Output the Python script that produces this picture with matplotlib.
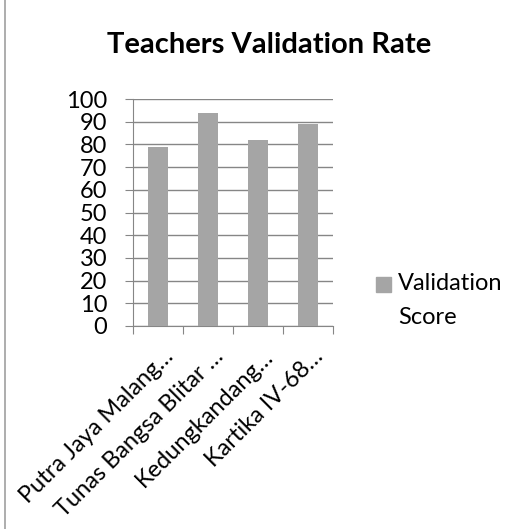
import numpy as np
import matplotlib.pyplot as plt
import matplotlib.transforms as mtransforms
from matplotlib.lines import Line2D
from matplotlib.patches import Rectangle

schools = ['Putra Jaya Malang…', 'Tunas Bangsa Blitar …', 'Kedungkandang…', 'Kartika IV-68…']
scores = [79, 94, 82, 89]
bar_color = '#a5a5a5'

plt.rcParams['font.family'] = ['Lato', 'DejaVu Sans']

W = 529
fig = plt.figure(figsize=(W/100, W/100), dpi=100)
ax = fig.add_axes([133/W, 1-326/W, 200/W, 227/W])

x = np.arange(len(schools))
ax.bar(x, scores, width=0.4, color=bar_color, zorder=3)
ax.set_xlim(-0.5, len(schools)-0.5)
ax.set_ylim(0, 100)
ax.set_yticks(range(0, 101, 10))
ax.yaxis.grid(True, color='#868686', linewidth=1, zorder=0)
ax.tick_params(axis='y', labelsize=17, length=6, color='#868686', pad=12.5)
ax.set_xticks(np.arange(-0.5, len(schools), 1))
ax.set_xticklabels([])
ax.tick_params(axis='x', length=5.5, color='#868686')
ax.set_xticks(x, minor=True)
ax.set_xticklabels(schools, minor=True, rotation=45, ha='right', va='center',
                   rotation_mode='anchor', fontsize=17)
ax.tick_params(axis='x', which='minor', length=0, pad=0)
shift = mtransforms.ScaledTranslation(12/100, -27/100, fig.dpi_scale_trans)
for lab in ax.get_xticklabels(minor=True):
    lab.set_transform(lab.get_transform() + shift)
for s in ['top', 'right']:
    ax.spines[s].set_visible(False)
for s in ['left', 'bottom']:
    ax.spines[s].set_color('#868686')

fig.text(269/W, 1-45/W, 'Teachers Validation Rate', ha='center', va='center',
         fontsize=21, fontweight='bold')

# legend
fig.add_artist(Rectangle((376/W, 1-292/W), 15/W, 15/W, color=bar_color, transform=fig.transFigure))
fig.text(398/W, 1-284/W, 'Validation', ha='left', va='center', fontsize=17)
fig.text(398/W, 1-318/W, 'Score', ha='left', va='center', fontsize=17)

fig.add_artist(Line2D([5/W, 5/W], [0, 1], color='#a0a0a0', linewidth=1.2))

fig.savefig('out.png', dpi=100)
